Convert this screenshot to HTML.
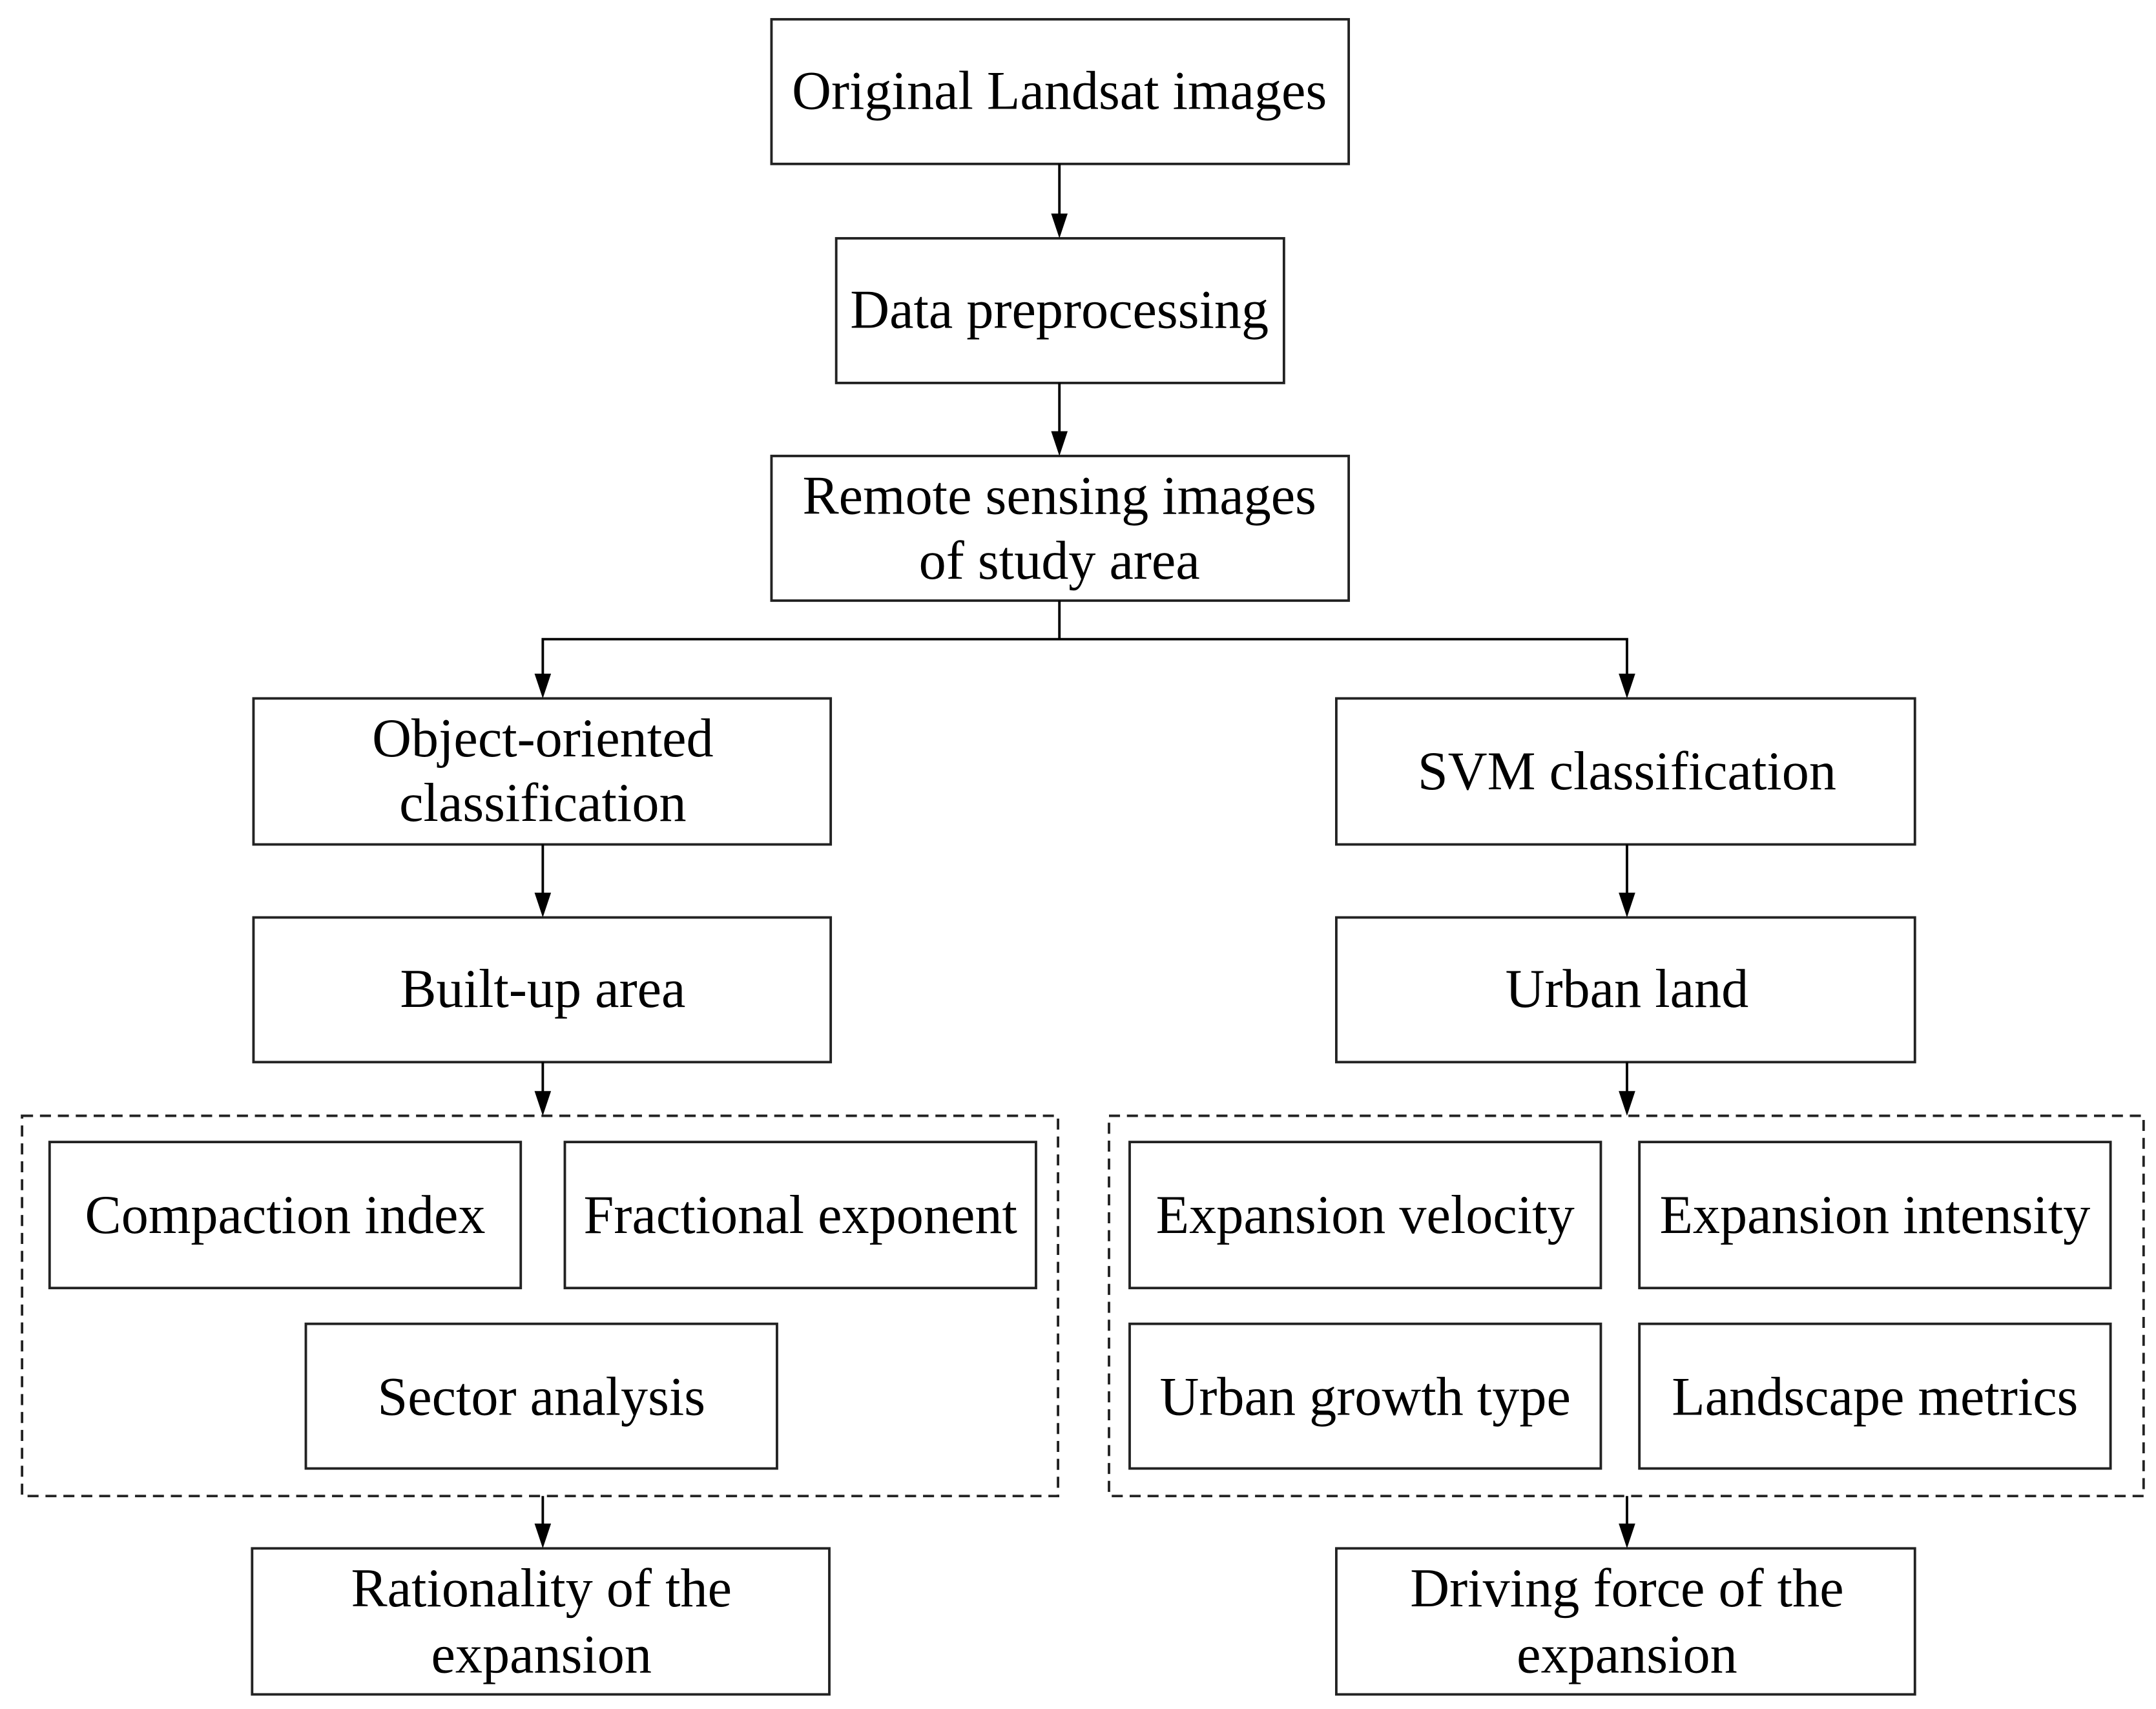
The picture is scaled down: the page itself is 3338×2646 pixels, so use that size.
<!DOCTYPE html>
<html><head><meta charset="utf-8"><style>html,body{margin:0;padding:0;background:#fff}svg{display:block}</style></head>
<body>
<svg width="3338" height="2646" viewBox="0 0 1565 1240.6" preserveAspectRatio="none" xmlns="http://www.w3.org/2000/svg">
<g fill="none" stroke="#222" stroke-width="1.8">
<rect x="560" y="14" width="419" height="105"/>
<rect x="607" y="173" width="325" height="105"/>
<rect x="560" y="331" width="419" height="105"/>
<rect x="184" y="507" width="419" height="106"/>
<rect x="970" y="507" width="420" height="106"/>
<rect x="184" y="666" width="419" height="105"/>
<rect x="970" y="666" width="420" height="105"/>
<rect x="16" y="810" width="752" height="276" stroke-dasharray="8,5"/>
<rect x="805" y="810" width="751" height="276" stroke-dasharray="8,5"/>
<rect x="36" y="829" width="342" height="106"/>
<rect x="410" y="829" width="342" height="106"/>
<rect x="222" y="961" width="342" height="105"/>
<rect x="820" y="829" width="342" height="106"/>
<rect x="1190" y="829" width="342" height="106"/>
<rect x="820" y="961" width="342" height="105"/>
<rect x="1190" y="961" width="342" height="105"/>
<rect x="183" y="1124" width="419" height="106"/>
<rect x="970" y="1124" width="420" height="106"/>
</g>
<g stroke="#000" stroke-width="1.8" fill="none">
<line x1="769" y1="119" x2="769" y2="160"/>
<line x1="769" y1="278" x2="769" y2="318"/>
<polyline points="769,436 769,464 394,464 394,494"/>
<polyline points="769,464 1181,464 1181,494"/>
<line x1="394" y1="613" x2="394" y2="653"/>
<line x1="1181" y1="613" x2="1181" y2="653"/>
<line x1="394" y1="771" x2="394" y2="797"/>
<line x1="1181" y1="771" x2="1181" y2="797"/>
<line x1="394" y1="1086" x2="394" y2="1111"/>
<line x1="1181" y1="1086" x2="1181" y2="1111"/>
</g>
<g fill="#000">
<polygon points="763,155 775,155 769,173"/>
<polygon points="763,313 775,313 769,331"/>
<polygon points="388,489 400,489 394,507"/>
<polygon points="1175,489 1187,489 1181,507"/>
<polygon points="388,648 400,648 394,666"/>
<polygon points="1175,648 1187,648 1181,666"/>
<polygon points="388,792 400,792 394,810"/>
<polygon points="1175,792 1187,792 1181,810"/>
<polygon points="388,1106 400,1106 394,1124"/>
<polygon points="1175,1106 1187,1106 1181,1124"/>
</g>
<g font-family="'Liberation Serif', serif" font-size="39.5" text-anchor="middle" fill="#000">
<text x="769" y="79">Original Landsat images</text>
<text x="769" y="238">Data preprocessing</text>
<text x="769" y="373">Remote sensing images</text>
<text x="769" y="420">of study area</text>
<text x="394" y="549">Object-oriented</text>
<text x="394" y="596">classification</text>
<text x="1181" y="573">SVM classification</text>
<text x="394" y="731">Built-up area</text>
<text x="1181" y="731">Urban land</text>
<text x="207" y="895">Compaction index</text>
<text x="581" y="895">Fractional exponent</text>
<text x="393" y="1027">Sector analysis</text>
<text x="991" y="895">Expansion velocity</text>
<text x="1361" y="895">Expansion intensity</text>
<text x="991" y="1027">Urban growth type</text>
<text x="1361" y="1027">Landscape metrics</text>
<text x="393" y="1166">Rationality of the</text>
<text x="393" y="1214">expansion</text>
<text x="1181" y="1166">Driving force of the</text>
<text x="1181" y="1214">expansion</text>
</g>
</svg>
</body></html>
